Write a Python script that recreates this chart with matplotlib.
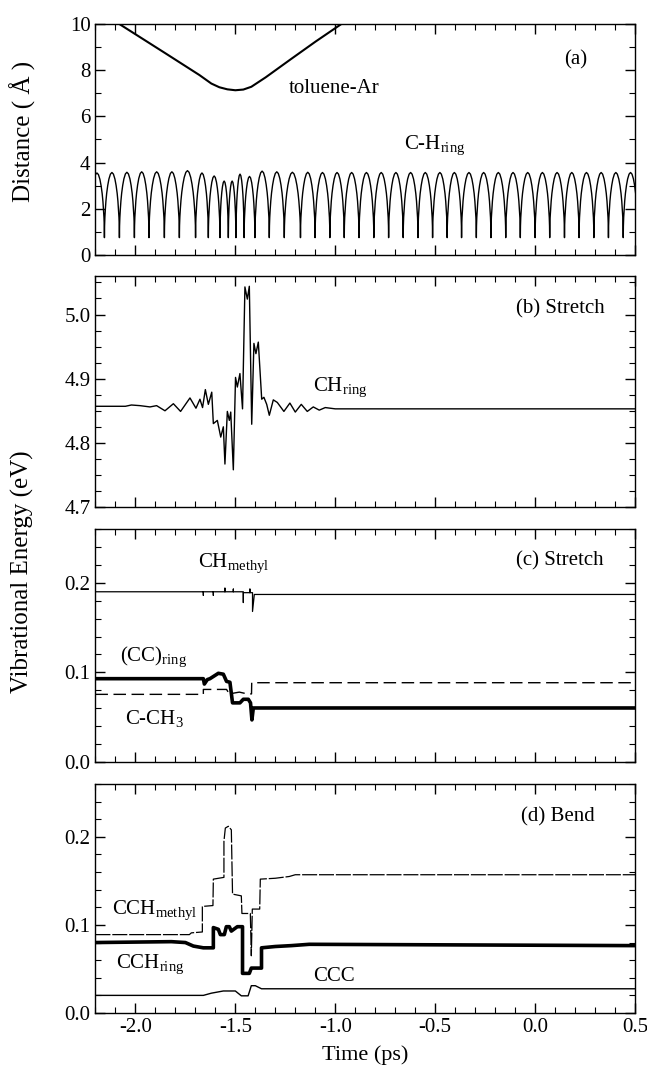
import numpy as np
import matplotlib
matplotlib.use("Agg")
import matplotlib.pyplot as plt
from matplotlib.ticker import MultipleLocator

plt.rcParams['font.family'] = ['Liberation Serif', 'DejaVu Serif']
plt.rcParams['mathtext.fontset'] = 'custom'
plt.rcParams['mathtext.rm'] = 'Liberation Serif'
plt.rcParams['mathtext.it'] = 'Liberation Serif:italic'
plt.rcParams['font.size'] = 14

# ---- panel (a): distances ----
ar_t = [-2.081, -1.848, -1.68, -1.62, -1.58, -1.54, -1.50, -1.46, -1.42, -1.348, -1.223, -1.098, -0.969]
ar_d = [10.0, 8.72, 7.79, 7.42, 7.26, 7.17, 7.13, 7.16, 7.28, 7.69, 8.47, 9.24, 10.0]

ch_cusps = [-2.23, -2.155, -2.080, -2.005, -1.932, -1.855, -1.780, -1.699, -1.635, -1.577,
            -1.535, -1.497, -1.456, -1.402, -1.330, -1.255, -1.174, -1.101, -1.027, -0.955,
            -0.881, -0.807, -0.733, -0.660, -0.586, -0.513, -0.440, -0.368, -0.294, -0.221,
            -0.147, -0.074, 0.000, 0.073, 0.147, 0.220, 0.294, 0.367, 0.441, 0.514]
ch_peaks = [3.55, 3.57, 3.58, 3.60, 3.60, 3.60, 3.65, 3.55, 3.42, 3.20,
            3.20, 3.50, 3.40, 3.63, 3.60, 3.58, 3.58, 3.57, 3.57, 3.57,
            3.57, 3.57, 3.57, 3.57, 3.57, 3.57, 3.57, 3.57, 3.57, 3.57,
            3.57, 3.57, 3.57, 3.57, 3.57, 3.57, 3.57, 3.57, 3.57]
ch_floor = 0.75
# shape of one arch (fraction of the period, fraction of the height)
arch_u = [0, 0.01, 0.03, 0.06, 0.10, 0.15, 0.22, 0.30, 0.40, 0.50,
          0.60, 0.70, 0.78, 0.85, 0.90, 0.94, 0.97, 0.99, 1.0]
arch_v = [0, 0.18, 0.31, 0.43, 0.56, 0.68, 0.80, 0.90, 0.975, 1.0,
          0.975, 0.90, 0.80, 0.68, 0.56, 0.43, 0.31, 0.18, 0]

# ---- panel (b): CH ring stretch ----
b_t = [-2.2, -2.05, -2.02, -1.977, -1.927, -1.894, -1.852, -1.81, -1.774, -1.727,
       -1.697, -1.677, -1.664, -1.650, -1.635, -1.618, -1.61, -1.59, -1.573, -1.56,
       -1.552, -1.54, -1.53, -1.523, -1.51, -1.499, -1.49, -1.477, -1.464, -1.452,
       -1.44, -1.43, -1.418, -1.407, -1.397, -1.385, -1.368, -1.357, -1.343, -1.33,
       -1.31, -1.29, -1.257, -1.227, -1.20, -1.17, -1.14, -1.11, -1.08, -1.05,
       -1.0, 0.5]
b_v = [4.857, 4.857, 4.859, 4.858, 4.856, 4.858, 4.850, 4.861, 4.849, 4.870,
       4.854, 4.868, 4.855, 4.883, 4.860, 4.879, 4.830, 4.835, 4.809, 4.825,
       4.767, 4.849, 4.835, 4.848, 4.758, 4.902, 4.887, 4.908, 4.853, 5.043,
       5.024, 5.044, 4.829, 4.955, 4.939, 4.957, 4.868, 4.871, 4.860, 4.843,
       4.867, 4.863, 4.849, 4.862, 4.848, 4.860, 4.849, 4.856, 4.851, 4.855,
       4.853, 4.853]

# ---- panel (c): stretch energies ----
chm_t = [-2.2, -1.66, -1.66, -1.66, -1.61, -1.61, -1.61, -1.552, -1.552, -1.552,
         -1.51, -1.51, -1.51, -1.46, -1.46, -1.46, -1.427, -1.427, -1.427, -1.414,
         -1.414, -1.405, 0.5]
chm_v = [0.190, 0.190, 0.186, 0.190, 0.190, 0.186, 0.190, 0.190, 0.194, 0.190,
         0.190, 0.193, 0.190, 0.190, 0.178, 0.189, 0.189, 0.193, 0.189, 0.189,
         0.168, 0.187, 0.187]
cc_t = [-2.2, -1.66, -1.655, -1.64, -1.627, -1.585, -1.56, -1.544, -1.527, -1.514,
        -1.477, -1.46, -1.435, -1.424, -1.417, -1.41, 0.5]
cc_v = [0.093, 0.093, 0.087, 0.092, 0.093, 0.099, 0.098, 0.090, 0.089, 0.066,
        0.066, 0.070, 0.070, 0.066, 0.047, 0.0603, 0.0603]
cch3_t = [-2.2, -1.66, -1.66, -1.544, -1.53, -1.48, -1.44, -1.419, -1.418, 0.5]
cch3_v = [0.0755, 0.0755, 0.081, 0.081, 0.076, 0.078, 0.076, 0.076, 0.0885, 0.0885]

# ---- panel (d): bend energies ----
cchm_t = [-2.2, -1.73, -1.72, -1.665, -1.665, -1.612, -1.61, -1.557, -1.557, -1.55,
          -1.535, -1.52, -1.514, -1.47, -1.467, -1.425, -1.42, -1.415, -1.378, -1.375,
          -1.30, -1.23, -1.20, 0.5]
cchm_v = [0.089, 0.089, 0.091, 0.092, 0.121, 0.122, 0.152, 0.154, 0.195, 0.210,
          0.212, 0.208, 0.135, 0.133, 0.113, 0.113, 0.065, 0.118, 0.118, 0.152,
          0.153, 0.155, 0.157, 0.157]
cchr_t = [-2.2, -1.82, -1.75, -1.71, -1.66, -1.61, -1.61, -1.585, -1.575, -1.555,
          -1.545, -1.53, -1.52, -1.49, -1.464, -1.464, -1.43, -1.42, -1.386, -1.369,
          -1.369, -1.30, -1.22, -1.13, 0.5]
cchr_v = [0.080, 0.081, 0.080, 0.076, 0.074, 0.074, 0.097, 0.095, 0.089, 0.089,
          0.098, 0.098, 0.093, 0.098, 0.098, 0.045, 0.045, 0.051, 0.051, 0.051,
          0.074, 0.0755, 0.0765, 0.078, 0.0765]
ccc_t = [-2.2, -1.66, -1.62, -1.56, -1.50, -1.47, -1.436, -1.42, -1.40, -1.369, 0.5]
ccc_v = [0.0200, 0.0200, 0.0225, 0.025, 0.025, 0.0195, 0.0195, 0.031, 0.031, 0.0275, 0.0275]

# build the C-H ring curve arch by arch
ch_t, ch_d = [], []
for k in range(len(ch_peaks)):
    t0, t1 = ch_cusps[k], ch_cusps[k + 1]
    for u, v in zip(arch_u, arch_v):
        ch_t.append(t0 + u * (t1 - t0))
        ch_d.append(ch_floor + v * (ch_peaks[k] - ch_floor))

fig = plt.figure(figsize=(6.47, 10.74), dpi=100)
L, W = 0.1475, 0.834
ax_a = fig.add_axes([L, 0.7626, W, 0.2151])
ax_b = fig.add_axes([L, 0.5279, W, 0.2151])
ax_c = fig.add_axes([L, 0.2905, W, 0.2169])
ax_d = fig.add_axes([L, 0.0568, W, 0.2132])

ax_a.plot(ar_t, ar_d, color='black', lw=1.5)
ax_a.plot(ch_t, ch_d, color='black', lw=1.0)
ax_a.set_ylim(0, 10)
ax_a.yaxis.set_major_locator(MultipleLocator(2))
ax_a.yaxis.set_minor_locator(MultipleLocator(1))
ax_a.text(0.144, 8.44, '(a)', ha='left', va='center', fontsize=15)
ax_a.text(-1.235, 7.21, 'toluene-Ar', ha='left', va='center', fontsize=15)
ax_a.text(-0.654, 4.75, 'C-H$_{\\rm ring}$', ha='left', va='center', fontsize=15)

ax_b.plot(b_t, b_v, color='black', lw=1.0)
ax_b.set_ylim(4.7, 5.06)
ax_b.yaxis.set_major_locator(MultipleLocator(0.1))
ax_b.yaxis.set_minor_locator(MultipleLocator(0.025))
ax_b.yaxis.set_major_formatter(matplotlib.ticker.FormatStrFormatter('%.1f'))
ax_b.text(-0.094, 5.009, '(b) Stretch', ha='left', va='center', fontsize=15)
ax_b.text(-1.11, 4.886, 'CH$_{\\rm ring}$', ha='left', va='center', fontsize=15)

ax_c.plot(chm_t, chm_v, color='black', lw=0.9)
ax_c.plot(cch3_t, cch3_v, color='black', lw=1.0, ls=(0, (9, 4)))
ax_c.plot(cc_t, cc_v, color='black', lw=2.6)
ax_c.text(-0.094, 0.225, '(c) Stretch', ha='left', va='center', fontsize=15)
ax_c.text(-1.685, 0.222, 'CH$_{\\rm methyl}$', ha='left', va='center', fontsize=15)
ax_c.text(-2.075, 0.118, '(CC)$_{\\rm ring}$', ha='left', va='center', fontsize=15)
ax_c.text(-2.054, 0.048, 'C-CH$_{3}$', ha='left', va='center', fontsize=15)

ax_d.plot(cchm_t, cchm_v, color='black', lw=0.9, ls=(0, (12, 1.5)))
ax_d.plot(ccc_t, ccc_v, color='black', lw=1.0)
ax_d.plot(cchr_t, cchr_v, color='black', lw=2.6)
ax_d.text(-0.073, 0.223, '(d) Bend', ha='left', va='center', fontsize=15)
ax_d.text(-2.117, 0.117, 'CCH$_{\\rm methyl}$', ha='left', va='center', fontsize=15)
ax_d.text(-2.096, 0.055, 'CCH$_{\\rm ring}$', ha='left', va='center', fontsize=15)
ax_d.text(-1.11, 0.041, 'CCC', ha='left', va='center', fontsize=15)

for ax in (ax_c, ax_d):
    ax.set_ylim(0, 0.26)
    ax.yaxis.set_major_locator(MultipleLocator(0.1))
    ax.yaxis.set_minor_locator(MultipleLocator(0.02))
    ax.yaxis.set_major_formatter(matplotlib.ticker.FormatStrFormatter('%.1f'))

for ax in (ax_a, ax_b, ax_c, ax_d):
    ax.set_xlim(-2.2, 0.5)
    ax.xaxis.set_major_locator(MultipleLocator(0.5))
    ax.xaxis.set_minor_locator(MultipleLocator(0.1))
    ax.tick_params(which='both', direction='in', top=True, right=True, labelsize=15)
    ax.tick_params(which='major', length=7, width=1.0)
    ax.tick_params(which='minor', length=4, width=0.8)
    for s in ax.spines.values():
        s.set_linewidth(1.0)
    if ax is not ax_d:
        ax.tick_params(labelbottom=False)

ax_d.xaxis.set_major_formatter(matplotlib.ticker.FormatStrFormatter('%.1f'))
ax_d.set_xlabel('Time (ps)', fontsize=16, labelpad=6)

fig.text(0.036, 0.878, 'Distance ( Å )', rotation=90, ha='center', va='center', fontsize=18)
fig.text(0.034, 0.468, 'Vibrational Energy (eV)', rotation=90, ha='center', va='center', fontsize=18)

fig.savefig('out.png', dpi=100)
